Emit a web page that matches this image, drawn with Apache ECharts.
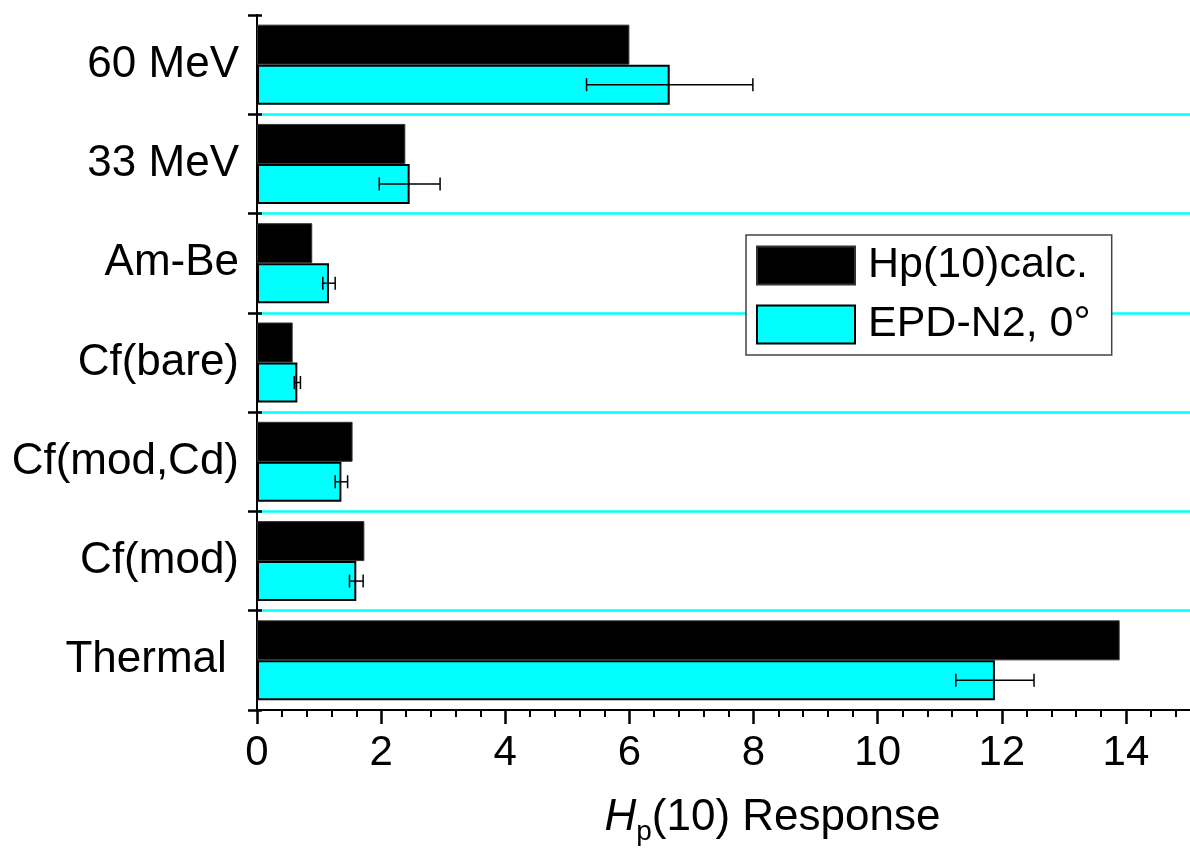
<!DOCTYPE html>
<html>
<head>
<meta charset="utf-8">
<script src="https://cdn.jsdelivr.net/npm/echarts@6/dist/echarts.min.js"></script>
<style>
html,body{margin:0;padding:0;background:#fff;overflow:hidden;}
#chart{width:1190px;height:853px;}
</style>
</head>
<body>
<div id="chart"></div>
<script>
// Categories, bottom to top
const categories = ['Thermal', 'Cf(mod)', 'Cf(mod,Cd)', 'Cf(bare)', 'Am-Be', '33 MeV', '60 MeV'];
// Hp(10) calculated response
const calcValues = [13.9, 1.73, 1.54, 0.575, 0.89, 2.39, 6.0];
// EPD-N2, 0 deg measured response
const epdValues = [11.89, 1.60, 1.36, 0.65, 1.16, 2.46, 6.65];
// symmetric error (half-width) of EPD-N2 values
const epdErrors = [0.63, 0.11, 0.10, 0.05, 0.10, 0.49, 1.34];
const xTicks = [0, 2, 4, 6, 8, 10, 12, 14];

const FONT = '"Liberation Sans", Arial, Helvetica, sans-serif';
const BAR_W = 40;

const errData = categories.map((c, i) => [i, epdValues[i] - epdErrors[i], epdValues[i] + epdErrors[i]]);

const chart = echarts.init(document.getElementById('chart'), null, {renderer: 'canvas'});
chart.setOption({
  backgroundColor: '#ffffff',
  animation: false,
  textStyle: {fontFamily: FONT, color: '#000'},
  grid: {left: 257, right: -60, top: 15, bottom: 143, containLabel: false, outerBoundsMode: 'none'},
  legend: {
    orient: 'vertical',
    left: 746, top: 235,
    itemWidth: 98, itemHeight: 38, itemGap: 16,
    padding: [9, 21, 9, 10],
    borderColor: '#444', borderWidth: 1.5,
    backgroundColor: '#ffffff',
    icon: 'rect',
    z: 10,
    textStyle: {fontSize: 43, fontFamily: FONT, color: '#000', padding: [0, 0, 0, 8]},
    data: ['Hp(10)calc.', 'EPD-N2, 0°']
  },
  xAxis: {
    type: 'value',
    min: 0, max: 16, interval: 2,
    axisLine: {show: true, lineStyle: {color: '#000', width: 2}},
    axisTick: {show: true, inside: false, length: 14, lineStyle: {color: '#000', width: 2.5}},
    minorTick: {show: true, splitNumber: 5, length: 7, lineStyle: {color: '#000', width: 2}},
    splitLine: {show: false},
    axisLabel: {
      fontSize: 42, color: '#000', fontFamily: FONT, margin: 22,
      showMaxLabel: false,
      formatter: v => (xTicks.indexOf(v) >= 0 ? String(v) : '')
    },
    name: '{h|H}{p|p}{t|(10) Response}',
    nameLocation: 'middle',
    nameGap: 86,
    nameTextStyle: {
      padding: [0, 0, 0, 38],
      rich: {
        h: {fontSize: 44, fontStyle: 'italic', fontFamily: FONT, color: '#000'},
        p: {fontSize: 28, fontFamily: FONT, color: '#000', lineHeight: 28, padding: [28, 0, 0, 0]},
        t: {fontSize: 44, fontFamily: FONT, color: '#000'}
      }
    }
  },
  yAxis: [{
    type: 'category',
    data: categories,
    axisLine: {show: true, lineStyle: {color: '#000', width: 2}},
    axisTick: {show: true, inside: false, length: 9, lineStyle: {color: '#000', width: 2.5}},
    axisLabel: {
      fontSize: 44, color: '#000', fontFamily: FONT, margin: 18,
      formatter: v => (v === 'Thermal' ? v + ' ' : v)
    },
    splitLine: {show: true, showMinLine: false, showMaxLine: false, lineStyle: {color: '#00FFFF', width: 2.5}}
  }, {
    type: 'category',
    data: categories,
    position: 'left',
    axisLine: {show: false},
    axisTick: {show: true, inside: true, length: 5, lineStyle: {color: '#000', width: 2.5}},
    axisLabel: {show: false},
    splitLine: {show: false}
  }],
  series: [{
    name: 'Hp(10)calc.',
    type: 'bar',
    yAxisIndex: 0,
    data: calcValues,
    barWidth: BAR_W,
    barGap: '0%',
    itemStyle: {color: '#000000', borderColor: '#333', borderWidth: 1}
  }, {
    name: 'EPD-N2, 0°',
    type: 'bar',
    yAxisIndex: 0,
    data: epdValues,
    barWidth: BAR_W,
    barGap: '0%',
    itemStyle: {color: '#00FFFF', borderColor: '#000', borderWidth: 2}
  }, {
    name: 'err',
    type: 'custom',
    yAxisIndex: 0,
    data: errData,
    encode: {x: [1, 2], y: 0},
    z: 5,
    renderItem: function (params, api) {
      const cat = api.value(0);
      const p1 = api.coord([api.value(1), cat]);
      const p2 = api.coord([api.value(2), cat]);
      const y = p1[1] + BAR_W / 2;
      const c = 6.5;
      const st = {stroke: '#000', lineWidth: 1.5};
      return {type: 'group', children: [
        {type: 'line', shape: {x1: p1[0], y1: y, x2: p2[0], y2: y}, style: st},
        {type: 'line', shape: {x1: p1[0], y1: y - c, x2: p1[0], y2: y + c}, style: st},
        {type: 'line', shape: {x1: p2[0], y1: y - c, x2: p2[0], y2: y + c}, style: st}
      ]};
    }
  }]
});
</script>
</body>
</html>
